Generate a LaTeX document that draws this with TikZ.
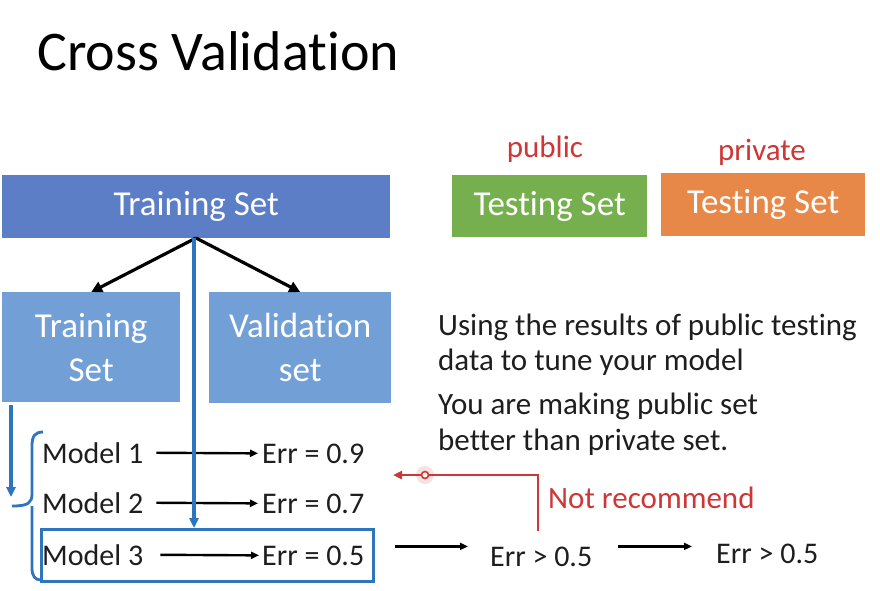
\documentclass[tikz,border=0pt]{standalone}
\usepackage{fontspec}
\setmainfont{Carlito}[Ligatures={NoCommon}]
\usetikzlibrary{arrows.meta}
\definecolor{bigblue}{RGB}{91,126,199}
\definecolor{ltblue}{RGB}{114,160,214}
\definecolor{tgreen}{RGB}{118,176,78}
\definecolor{torange}{RGB}{232,136,72}
\definecolor{redtxt}{RGB}{205,55,55}
\definecolor{lineblue}{RGB}{46,117,190}
\definecolor{txtgray}{RGB}{30,30,30}
\tikzset{
  box/.style={fill=#1, draw=none, text=white, inner sep=0pt, anchor=north west, align=center,
    font=\fontsize{35}{44}\selectfont},
  txt/.style={inner sep=0pt, anchor=base west, text=txtgray, font=\fontsize{30}{36}\selectfont},
  para/.style={inner sep=0pt, anchor=base west, text=txtgray, font=\fontsize{31}{36}\selectfont},
  redlbl/.style={inner sep=0pt, anchor=base, text=redtxt, font=\fontsize{31}{36}\selectfont},
  blk/.style={draw=black, line width=2.4pt, -{Triangle[length=8pt,width=7pt]}},
  blu/.style={draw=lineblue, line width=3.2pt, -{Triangle[length=10pt,width=9pt]}},
}
\begin{document}
\begin{tikzpicture}[x=1pt,y=-1pt]
\useasboundingbox[fill=white] (0,0) rectangle (880,590);
\node[inner sep=0pt, anchor=base west, font=\fontsize{56}{60}\selectfont, text=black] (title) at (37,70) {Cross Validation};

\node[box=bigblue, minimum width=388pt, minimum height=63pt] (big) at (2,175) {Training Set};
\node[box=tgreen, minimum width=195pt, minimum height=62pt] (pub) at (452,175) {Testing Set};
\node[box=torange, minimum width=204pt, minimum height=63pt] (priv) at (661,173) {Testing Set};
\node[redlbl] (publbl) at (545,157) {public};
\node[redlbl] (privlbl) at (762,160) {private};

\node[box=ltblue, minimum width=178pt, minimum height=110pt] (tr) at (2,292) {Training\\Set};
\node[box=ltblue, minimum width=182pt, minimum height=111pt] (val) at (209,292) {Validation\\set};

\coordinate (bs) at (196,238);
\draw[black, line width=3.2pt, -{Triangle[length=11pt,width=11pt]}] (bs) -- (tr.north);
\draw[black, line width=3.2pt, -{Triangle[length=11pt,width=11pt]}] (bs) -- (val.north);

% text block
\node[para] (l1) at (438,335) {Using the results of public testing};
\node[para] (l2) at (438,370) {data to tune your model};
\node[para] (l3) at (438,414) {You are making public set};
\node[para] (l4) at (438,450) {better than private set.};

% models
\node[txt] (m1) at (42,463) {Model 1};
\node[txt] (m2) at (42,513) {Model 2};
\node[txt] (m3) at (42,565) {Model 3};
\node[txt] (e1) at (262,463) {Err = 0.9};
\node[txt] (e2) at (262,513) {Err = 0.7};
\node[txt] (e3) at (262,565) {Err = 0.5};
\node[txt] (g1) at (490,566) {Err > 0.5};
\node[txt] (g2) at (716,563) {Err > 0.5};

\draw[blk, shorten <=13pt, shorten >=4pt] (m1.east) -- (e1.west);
\draw[blk, shorten <=13pt, shorten >=4pt] (m2.east) -- (e2.west);
\draw[blk, shorten <=17pt, shorten >=3pt] (m3.east) -- (e3.west);

\node[draw=lineblue, line width=2.8pt, minimum width=332pt, minimum height=52pt, inner sep=0pt, anchor=north west] (box3) at (40,528) {};

\draw[blk, shorten <=20pt, shorten >=22pt] (box3.east |- g1.west) ++(0,-10) coordinate (a1) (a1) -- (g1.west |- a1);
\draw[blk, shorten <=26pt, shorten >=24pt] (g1.east) ++(0,-10) coordinate (a2) (a2) -- (g2.west |- a2);

% blue connectors
\coordinate (bt) at (194,238);
\draw[blu] (bt) -- (bt |- box3.north);
\coordinate (ls) at (11,405);
\coordinate (le) at (11,497);
\draw[blu] (ls) -- (le);

% brace
\draw[lineblue, line width=2.8pt]
  (43,432) .. controls (35,432) and (32,436) .. (32,446)
  -- (32,494) .. controls (32,503) and (28,506) .. (12,506);
\draw[lineblue, line width=2.8pt]
  (32,506) -- (32,568) .. controls (32,576) and (35,580) .. (41,580);

% red feedback
\coordinate (rs) at (538,531);
\coordinate (rc) at (538,475);
\coordinate (re) at (393,475);
\draw[redtxt, line width=2.6pt, -{Triangle[length=9pt,width=8pt]}] (rs) -- (rc) -- (re);
\fill[redtxt, opacity=0.15] (425,475) circle (9pt);
\draw[redtxt, line width=1.6pt, fill=white] (425,475) circle (3.5pt);
\node[redlbl, anchor=base west] (nr) at (548,508) {Not recommend};
\end{tikzpicture}
\end{document}
